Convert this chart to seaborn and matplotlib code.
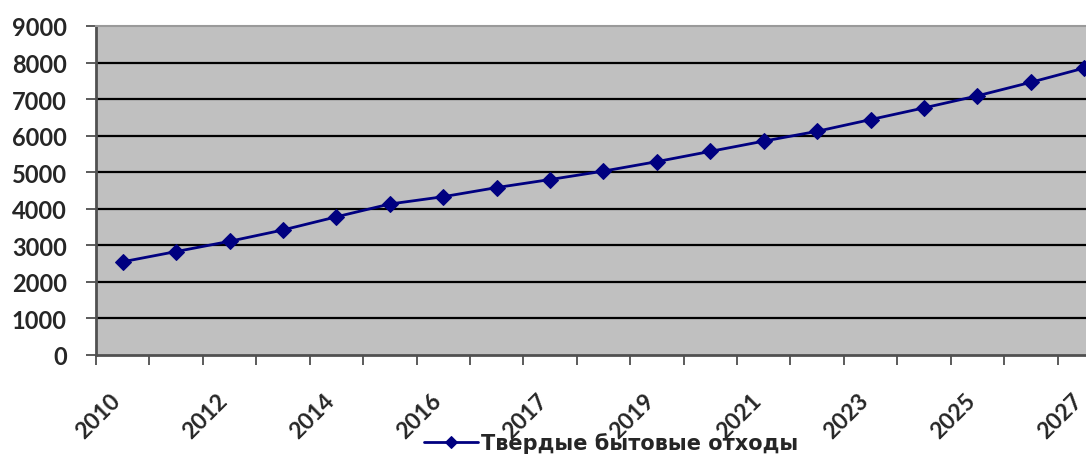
import numpy as np
import pandas as pd
import matplotlib
matplotlib.use("Agg")
import matplotlib.pyplot as plt
import matplotlib.transforms as mtransforms
import seaborn as sns

# Municipal solid waste forecast, one point per category
values = [2550, 2830, 3110, 3420, 3780, 4130, 4330, 4580, 4800, 5030,
          5290, 5570, 5850, 6120, 6440, 6760, 7090, 7460, 7850]
tick_labels = ["2010", "2012", "2014", "2016", "2017",
               "2019", "2021", "2023", "2025", "2027"]
y_ticks = [0, 1000, 2000, 3000, 4000, 5000, 6000, 7000, 8000, 9000]
series_name = "Твердые бытовые отходы"

df = pd.DataFrame({"pos": np.arange(len(values)), "value": values,
                   "series": series_name})

sns.set_style("white")
plt.rcParams["font.family"] = ["Lato", "DejaVu Sans"]

fig = plt.figure(figsize=(10.86, 4.56), dpi=100)
fig.patch.set_facecolor("white")
ax = fig.add_axes([0.0884, 0.2193, 0.9346, 0.7215])
ax.set_facecolor("#c0c0c0")

sns.lineplot(data=df, x="pos", y="value", hue="series",
             palette=["#000080"], marker="D", markersize=8,
             markeredgecolor="#000080", linewidth=2, ax=ax, zorder=5)

ax.set_xlim(-0.5, len(values) - 0.5)
ax.set_ylim(y_ticks[0], y_ticks[-1])

# horizontal gridlines
for v in y_ticks[1:-1]:
    ax.axhline(v, color="black", linewidth=1.6, zorder=2)

ax.set_yticks(y_ticks)
ax.set_yticklabels([str(v) for v in y_ticks], fontsize=17, fontweight="bold")
ax.tick_params(axis="y", direction="out", length=7, width=1.2,
               color="#404040", pad=14, left=True)

# category labels on every other category, tick marks between categories
ax.set_xticks(np.arange(0, len(values), 2))
ax.set_xticklabels(tick_labels, rotation=45, ha="right", va="top",
                   rotation_mode="anchor", fontsize=16.5, fontweight="bold")
ax.tick_params(axis="x", which="major", length=0, pad=25)
shift = mtransforms.ScaledTranslation(-0.13, 0, fig.dpi_scale_trans)
for lbl in ax.get_xticklabels():
    lbl.set_transform(lbl.get_transform() + shift)
ax.set_xticks(np.arange(-0.5, len(values), 1.0), minor=True)
ax.tick_params(axis="x", which="minor", direction="out", length=7,
               width=1.2, color="#404040", bottom=True)

for side in ["left", "bottom"]:
    ax.spines[side].set_color("#505050")
    ax.spines[side].set_linewidth(2)
ax.spines["top"].set_color("#9a9a9a")
ax.spines["top"].set_linewidth(1.5)
ax.spines["right"].set_visible(False)

ax.set_xlabel("")
ax.set_ylabel("")

handles, labels = ax.get_legend_handles_labels()
ax.get_legend().remove()
for h in handles:
    h.set_markersize(6)
fig.legend(handles, labels, loc="lower center", bbox_to_anchor=(0.563, -0.037),
           frameon=False, prop={"size": 15, "weight": "bold",
                                "family": ["DejaVu Sans"]},
           handlelength=2.6, handletextpad=0.15)

fig.savefig("out.png", dpi=100, facecolor="white")
